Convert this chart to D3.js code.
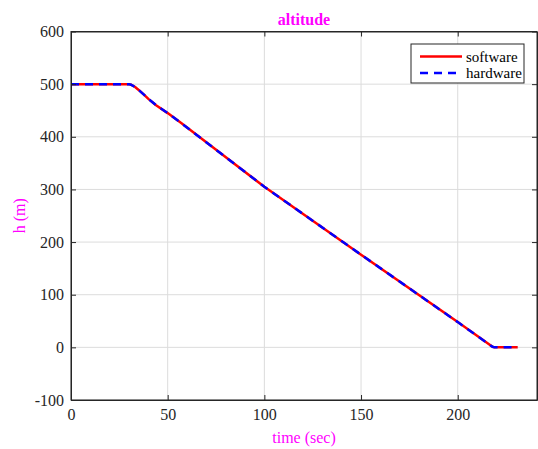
<!DOCTYPE html>
<html>
<head>
<meta charset="utf-8">
<script src="https://cdn.jsdelivr.net/npm/d3@7"></script>
<style>
  body { margin: 0; background: #fff; }
  svg { display: block; }
  text { font-family: "Liberation Serif", "Times New Roman", serif; }
</style>
</head>
<body>
<svg id="chart" width="538" height="449"></svg>
<script>
// ---- data ----
const timeValues = [0, 10, 20, 30, 31, 33, 35, 38, 40, 44, 50, 57, 100, 150, 200, 218, 219, 231];
const softwareH  = [500, 500, 500, 500, 499, 495, 489, 479, 472, 460, 445, 426, 305, 176, 48, 1, 0, 0];
const hardwareH  = [500, 500, 500, 500, 499, 495, 489, 479, 472, 460, 445, 426, 305, 176, 48, 1, 0, 0];
const xTicks = [0, 50, 100, 150, 200];
const yTicks = [-100, 0, 100, 200, 300, 400, 500, 600];
const seriesNames = ["software", "hardware"];

// ---- layout ----
const svg = d3.select("#chart");
const L = 71, R = 537, T = 31.5, B = 400;
const x = d3.scaleLinear().domain([0, 241]).range([L, R]);
const y = d3.scaleLinear().domain([-100, 600]).range([B, T]);

svg.append("rect").attr("x", 0).attr("y", 0).attr("width", 538).attr("height", 449).attr("fill", "#fff");

// grid
const grid = svg.append("g");
grid.selectAll(".gx").data(xTicks).enter().append("line")
  .attr("x1", d => x(d)).attr("x2", d => x(d)).attr("y1", T).attr("y2", B)
  .attr("stroke", "#dcdcdc").attr("stroke-width", 1);
grid.selectAll(".gy").data(yTicks).enter().append("line")
  .attr("x1", L).attr("x2", R).attr("y1", d => y(d)).attr("y2", d => y(d))
  .attr("stroke", "#dcdcdc").attr("stroke-width", 1);

// lines
const pts = (vals) => timeValues.map((t, i) => [t, vals[i]]);
const line = d3.line().x(d => x(d[0])).y(d => y(d[1]));
svg.append("path").datum(pts(softwareH)).attr("d", line)
  .attr("fill", "none").attr("stroke", "#ff0000").attr("stroke-width", 2.5)
  .attr("stroke-linejoin", "round");
svg.append("path").datum(pts(hardwareH)).attr("d", line)
  .attr("fill", "none").attr("stroke", "#0000ff").attr("stroke-width", 2.5)
  .attr("stroke-dasharray", "8,6");

// axes
const axisColor = "#262626";
const fmt = d => String(d);
const xAxis = d3.axisBottom(x).tickValues(xTicks).tickSizeInner(-5).tickSizeOuter(0).tickPadding(9).tickFormat(fmt);
const gx = svg.append("g").attr("transform", `translate(0,${B})`).call(xAxis);
const xAxisTop = d3.axisTop(x).tickValues(xTicks).tickSizeInner(-5).tickSizeOuter(0).tickFormat("");
const gxt = svg.append("g").attr("transform", `translate(0,${T})`).call(xAxisTop);
const yAxis = d3.axisLeft(y).tickValues(yTicks).tickSizeInner(-5).tickSizeOuter(0).tickPadding(7).tickFormat(fmt);
const gy = svg.append("g").attr("transform", `translate(${L},0)`).call(yAxis);
const yAxisR = d3.axisRight(y).tickValues(yTicks).tickSizeInner(-5).tickSizeOuter(0).tickFormat("");
const gyr = svg.append("g").attr("transform", `translate(${R},0)`).call(yAxisR);
[gx, gxt, gy, gyr].forEach(g => {
  g.select(".domain").attr("stroke", axisColor);
  g.selectAll(".tick line").attr("stroke", axisColor);
  g.selectAll("text").attr("fill", "#262626").attr("font-size", 16)
    .style("font-family", '"Liberation Serif", serif');
});
svg.append("rect").attr("x", L).attr("y", T).attr("width", R - L).attr("height", B - T)
  .attr("fill", "none").attr("stroke", axisColor).attr("stroke-width", 1);

// title and labels
svg.append("text").attr("x", (L + R) / 2).attr("y", 25).attr("text-anchor", "middle")
  .attr("font-size", 16).attr("font-weight", "bold").attr("fill", "#ff00ff").text("altitude");
svg.append("text").attr("x", (L + R) / 2).attr("y", 443).attr("text-anchor", "middle")
  .attr("font-size", 16).attr("fill", "#ff00ff").text("time (sec)");
svg.append("text").attr("transform", `translate(25,${(T + B) / 2}) rotate(-90)`)
  .attr("text-anchor", "middle").attr("font-size", 16).attr("fill", "#ff00ff").text("h (m)");

// legend
const lg = svg.append("g");
lg.append("rect").attr("x", 411).attr("y", 44).attr("width", 113).attr("height", 39)
  .attr("fill", "#fff").attr("stroke", axisColor).attr("stroke-width", 1);
const legendStyles = [{c: "#ff0000", dash: null}, {c: "#0000ff", dash: "8,6"}];
seriesNames.forEach((name, i) => {
  const yy = 56.5 + i * 16.5;
  const l = lg.append("line").attr("x1", 420).attr("x2", 462).attr("y1", yy).attr("y2", yy)
    .attr("stroke", legendStyles[i].c).attr("stroke-width", 2.5);
  if (legendStyles[i].dash) l.attr("stroke-dasharray", legendStyles[i].dash);
  lg.append("text").attr("x", 466).attr("y", yy + 5).attr("font-size", 15)
    .attr("fill", "#000").text(name);
});
</script>
</body>
</html>
